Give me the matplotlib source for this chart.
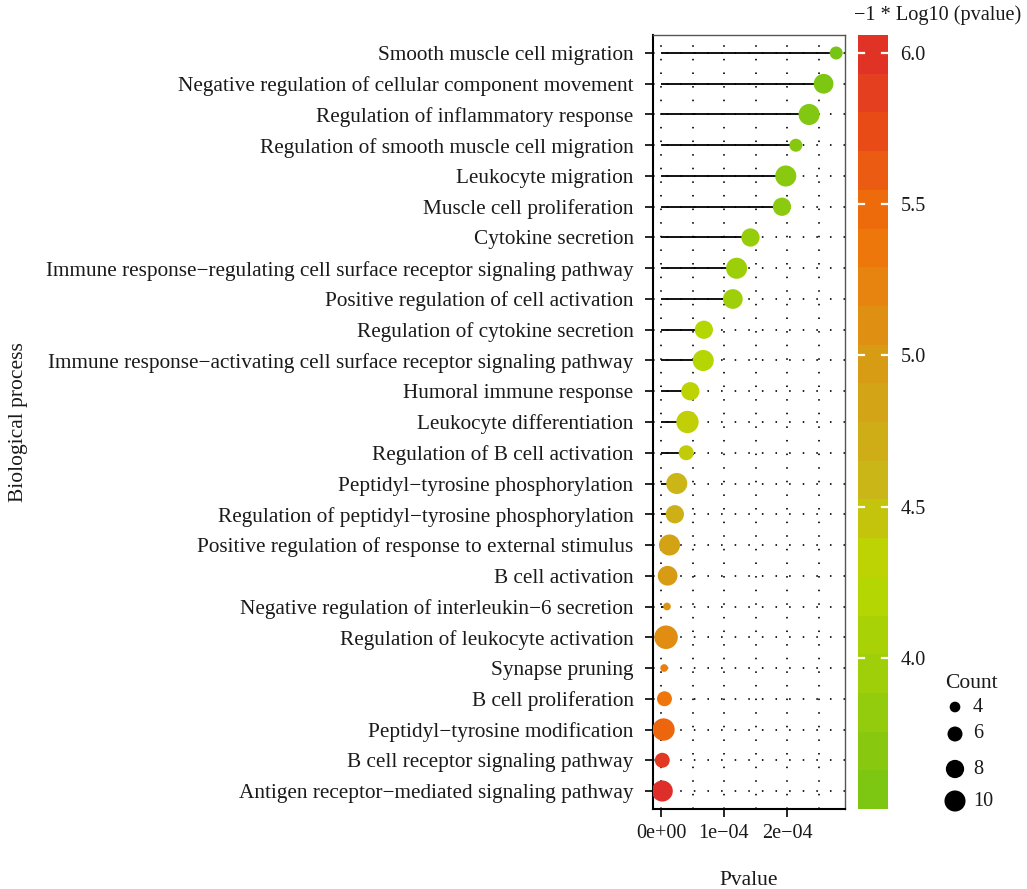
import numpy as np
import matplotlib
matplotlib.use("Agg")
import matplotlib.pyplot as plt
from matplotlib.colors import LinearSegmentedColormap, Normalize

plt.rcParams['font.family'] = ['Liberation Serif', 'DejaVu Serif']

# rows listed top to bottom
processes = [
    "Smooth muscle cell migration",
    "Negative regulation of cellular component movement",
    "Regulation of inflammatory response",
    "Regulation of smooth muscle cell migration",
    "Leukocyte migration",
    "Muscle cell proliferation",
    "Cytokine secretion",
    "Immune response\u2212regulating cell surface receptor signaling pathway",
    "Positive regulation of cell activation",
    "Regulation of cytokine secretion",
    "Immune response\u2212activating cell surface receptor signaling pathway",
    "Humoral immune response",
    "Leukocyte differentiation",
    "Regulation of B cell activation",
    "Peptidyl\u2212tyrosine phosphorylation",
    "Regulation of peptidyl\u2212tyrosine phosphorylation",
    "Positive regulation of response to external stimulus",
    "B cell activation",
    "Negative regulation of interleukin\u22126 secretion",
    "Regulation of leukocyte activation",
    "Synapse pruning",
    "B cell proliferation",
    "Peptidyl\u2212tyrosine modification",
    "B cell receptor signaling pathway",
    "Antigen receptor\u2212mediated signaling pathway",
]
pvalues = [2.78e-4, 2.58e-4, 2.35e-4, 2.14e-4, 1.98e-4, 1.92e-4, 1.42e-4,
           1.20e-4, 1.14e-4, 0.68e-4, 0.67e-4, 0.465e-4, 0.42e-4, 0.40e-4,
           0.25e-4, 0.22e-4, 0.135e-4, 0.105e-4, 0.095e-4, 0.08e-4,
           0.05e-4, 0.055e-4, 0.04e-4, 0.02e-4, 0.02e-4]
neg_log10_p = [3.50, 3.57, 3.62, 3.66, 3.70, 3.72, 3.86, 3.93, 3.95, 4.20,
               4.21, 4.33, 4.37, 4.40, 4.60, 4.66, 4.87, 4.98, 5.05, 5.12,
               5.25, 5.36, 5.52, 5.92, 6.06]
counts = [5, 9, 10, 5, 10, 8, 8, 10, 9, 8, 10, 8, 11, 6, 10, 8, 10, 9, 3,
          12, 3, 6, 11, 6, 10]
legend_counts = [4, 6, 8, 10]
cbar_ticks = [4.0, 4.5, 5.0, 5.5, 6.0]

cmap = LinearSegmentedColormap.from_list("pv", [
    (0.0, "#78C414"), (0.31, "#BCD800"), (0.43, "#CBB418"),
    (0.585, "#D89A14"), (0.72, "#EE780C"), (0.78, "#EE6A0C"),
    (0.88, "#E84A16"), (1.0, "#DE2E2A")])
vmin, vmax = min(neg_log10_p), max(neg_log10_p)
norm = Normalize(vmin, vmax)

TXT = '#1A1A1A'


def size_pt2(c):
    d_px = np.sqrt(55 * np.asarray(c, float) - 106)
    return (d_px * 0.72) ** 2


fig = plt.figure(figsize=(10.27, 8.89), dpi=100)
ax = fig.add_axes([653 / 1027, 1 - 809 / 889, 192 / 1027, 774 / 889])

n = len(processes)
ypos = np.arange(n)[::-1]

# dotted grid
for gx in np.arange(0, 3e-4, 0.5e-4):
    ax.axvline(gx, color='#222222', lw=1.4, ls=(0, (0.8, 6.2)), zorder=1)
for gy in ypos:
    ax.axhline(gy, color='#222222', lw=1.4, ls=(0, (0.8, 6.2)), zorder=1)

ax.hlines(ypos, 0, pvalues, color='black', lw=1.3, zorder=2)
ax.scatter(pvalues, ypos, s=size_pt2(counts), c=neg_log10_p, cmap=cmap,
           norm=norm, edgecolors='none', zorder=3)

ax.set_xlim(-0.127e-4, 2.92e-4)
ax.set_ylim(-0.585, n - 1 + 0.585)
ax.set_yticks(ypos)
ax.set_yticklabels(processes, fontsize=15.3, color=TXT)
ax.set_xticks([0, 1e-4, 2e-4])
ax.set_xticklabels(["0e+00", "1e\u221204", "2e\u221204"], fontsize=14.6,
                   color=TXT)
ax.tick_params(length=6, width=1.2, direction='out')
ax.tick_params(axis='y', pad=8)
ax.tick_params(axis='x', pad=5)
for side in ['left', 'bottom']:
    ax.spines[side].set_linewidth(1.5)
    ax.spines[side].set_color('black')
for side in ['top', 'right']:
    ax.spines[side].set_linewidth(1.0)
    ax.spines[side].set_color('#555555')
ax.set_xlabel("Pvalue", fontsize=15.5, labelpad=20, color=TXT)
fig.text(19 / 1027, 1 - 422 / 889, "Biological process", rotation=90,
         ha='center', va='center', fontsize=15.5, color=TXT)

# colour bar, drawn in 20 steps
cax = fig.add_axes([858 / 1027, 1 - 809 / 889, 30 / 1027, 774 / 889])
edges = np.linspace(vmin, vmax, 21)
centers = (edges[:-1] + edges[1:]) / 2
cax.pcolormesh([0, 1], edges, centers[:, None], cmap=cmap, norm=norm,
               shading='flat')
cax.set_xlim(0, 1)
cax.set_ylim(vmin, vmax)
cax.set_xticks([])
cax.set_yticks(cbar_ticks)
cax.set_yticklabels([f"{t:.1f}" for t in cbar_ticks], fontsize=14.6,
                    color=TXT)
cax.yaxis.tick_right()
cax.tick_params(length=0, pad=9)
for t in cbar_ticks:
    cax.plot([0, 0.2], [t, t], color='white', lw=1.6)
    cax.plot([0.8, 1], [t, t], color='white', lw=1.6)
for s in cax.spines.values():
    s.set_visible(False)
fig.text(854 / 1027, 1 - 15 / 889, "\u22121 * Log10 (pvalue)", ha='left',
         va='center', fontsize=14.6, color=TXT)

# size legend
lax = fig.add_axes([935 / 1027, 1 - 820 / 889, 90 / 1027, 150 / 889])
lax.set_xlim(0, 90)
lax.set_ylim(820, 670)
lax.axis('off')
key_y = [707, 734, 769, 801]
lax.scatter([20] * len(legend_counts), key_y, s=size_pt2(legend_counts),
            color='black', edgecolors='none')
for c, yy in zip(legend_counts, key_y):
    lax.text(38, yy, str(c), ha='left', va='center', fontsize=14.6,
             color=TXT)
lax.text(10, 683, "Count", ha='left', va='center', fontsize=15.5,
         color=TXT)

fig.savefig("out.png", dpi=100)
